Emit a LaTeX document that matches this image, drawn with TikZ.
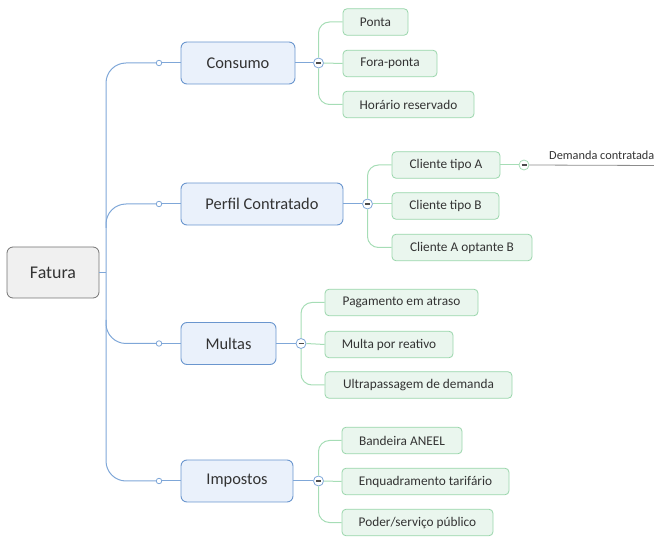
\documentclass[tikz,border=0pt]{standalone}
\usepackage{fontspec}
\setmainfont{Carlito}
\definecolor{mainfill}{HTML}{EAF1FB}
\definecolor{mainborder}{HTML}{6A96CE}
\definecolor{subfill}{HTML}{EAF6EE}
\definecolor{subborder}{HTML}{99D6AB}
\definecolor{trunk}{HTML}{7FA7D8}
\definecolor{greenline}{HTML}{A6DDB6}
\definecolor{txt}{HTML}{333333}
\begin{document}
\begin{tikzpicture}[x=1pt,y=-1pt,
 rootbox/.style={draw=black!55, fill=black!6, rounded corners=6pt, line width=0.8pt, minimum width=92pt, minimum height=51pt, inner sep=0pt, font=\fontsize{17.9}{20}\selectfont, text=txt},
 mainbox/.style={draw=mainborder, fill=mainfill, rounded corners=6pt, line width=0.9pt, minimum height=42pt, inner sep=0pt, font=\fontsize{16.4}{19}\selectfont, text=txt},
 subbox/.style={draw=subborder, fill=subfill, rounded corners=4pt, line width=0.8pt, minimum height=26.5pt, inner sep=0pt, font=\fontsize{13.3}{15}\selectfont, text=txt},
 bline/.style={draw=trunk, line width=1pt},
 gline/.style={draw=greenline, line width=1pt},
 grayline/.style={draw=black!45, line width=0.8pt},
 knob/.style={circle, draw=trunk, fill=white, inner sep=0pt, minimum size=5.5pt, line width=0.8pt},
 minusbtn/.style={circle, draw=#1, fill=white, inner sep=0pt, minimum size=10pt, line width=0.8pt,
   path picture={\draw[line width=1.1pt, black!70] ([xshift=-2.5pt]path picture bounding box.center) -- ([xshift=2.5pt]path picture bounding box.center);}},
]
\useasboundingbox (0,0) rectangle (654,537);

% root
\node[rootbox] (fatura) at (53,272.5) {Fatura};

% main nodes
\node[mainbox, minimum width=114pt] (consumo) at (238,63) {Consumo};
\node[mainbox, minimum width=162pt] (perfil) at (262,204) {Perfil Contratado};
\node[mainbox, minimum width=95pt] (multas) at (228.5,343.5) {Multas};
\node[mainbox, minimum width=112pt] (impostos) at (237,481) {Impostos};

% children
\node[subbox, minimum width=65pt] (ponta) at (375.5,22) {Ponta};
\node[subbox, minimum width=94pt] (fora) at (390,63.5) {Fora-ponta};
\node[subbox, minimum width=131pt] (horario) at (408.5,104.5) {Horário reservado};

\node[subbox, minimum width=108pt] (clA) at (446,165) {Cliente tipo A};
\node[subbox, minimum width=107pt] (clB) at (445.5,206) {Cliente tipo B};
\node[subbox, minimum width=140pt] (clAB) at (462,247.5) {Cliente A optante B};

\node[subbox, minimum width=153pt] (pag) at (401.5,302.5) {Pagamento em atraso};
\node[subbox, minimum width=128pt] (mul) at (389,344.5) {Multa por reativo};
\node[subbox, minimum width=187pt] (ult) at (418.5,385) {Ultrapassagem de demanda};

\node[subbox, minimum width=120pt] (band) at (402,440.5) {Bandeira ANEEL};
\node[subbox, minimum width=167pt] (enq) at (425.5,481.5) {Enquadramento tarifário};
\node[subbox, minimum width=151pt] (pod) at (417.5,522.5) {Poder/serviço público};

% trunk coordinates
\coordinate (tTop) at (106,63);
\coordinate (tBot) at (106,481);
\coordinate (tFat) at (106,272.5);
\coordinate (tPer) at (106,228);
\coordinate (tMul) at (106,320);

% knobs
\node[knob] (k1) at (159,63) {};
\node[knob] (k2) at (159,204) {};
\node[knob] (k3) at (159,343.5) {};
\node[knob] (k4) at (159,481) {};

% trunk lines
\draw[bline, rounded corners=20pt] (k1.west) -- (tTop) -- (tBot) -- (k4.west);
\draw[bline, rounded corners=20pt] (tPer) |- (k2.west);
\draw[bline, rounded corners=20pt] (tMul) |- (k3.west);
\draw[bline] (fatura.east) -- (tFat);
\draw[bline] (k1.east) -- (consumo.west);
\draw[bline] (k2.east) -- (perfil.west);
\draw[bline] (k3.east) -- (multas.west);
\draw[bline] (k4.east) -- (impostos.west);

% minus buttons
\node[minusbtn=trunk] (m1) at (318.5,63) {};
\node[minusbtn=trunk] (m2) at (367.5,204) {};
\node[minusbtn=trunk] (m3) at (301,343.5) {};
\node[minusbtn=trunk] (m4) at (318.5,481) {};
\node[minusbtn=greenline] (m5) at (524,165) {};

\draw[bline] (consumo.east) -- (m1.west);
\draw[bline] (perfil.east) -- (m2.west);
\draw[bline] (multas.east) -- (m3.west);
\draw[bline] (impostos.east) -- (m4.west);

% green branches
\draw[gline, rounded corners=11pt] (m1.north) |- (ponta.west);
\draw[gline] (m1.east) -- (fora.west);
\draw[gline, rounded corners=11pt] (m1.south) |- (horario.west);

\draw[gline, rounded corners=11pt] (m2.north) |- (clA.west);
\draw[gline] (m2.east) -- (clB.west |- m2.east);
\draw[gline, rounded corners=11pt] (m2.south) |- (clAB.west);

\draw[gline, rounded corners=11pt] (m3.north) |- (pag.west);
\draw[gline] (m3.east) -- (mul.west);
\draw[gline, rounded corners=11pt] (m3.south) |- (ult.west);

\draw[gline, rounded corners=11pt] (m4.north) |- (band.west);
\draw[gline] (m4.east) -- (enq.west);
\draw[gline, rounded corners=11pt] (m4.south) |- (pod.west);

% Demanda contratada
\draw[gline] (clA.east) -- (m5.west);
\coordinate (dEnd) at (654,165.5);
\draw[grayline] (m5.east) -- (dEnd);
\node[anchor=base west, inner sep=0pt, font=\fontsize{12.3}{14}\selectfont, text=txt] (dem) at (549,160) {Demanda contratada};
\end{tikzpicture}
\end{document}
